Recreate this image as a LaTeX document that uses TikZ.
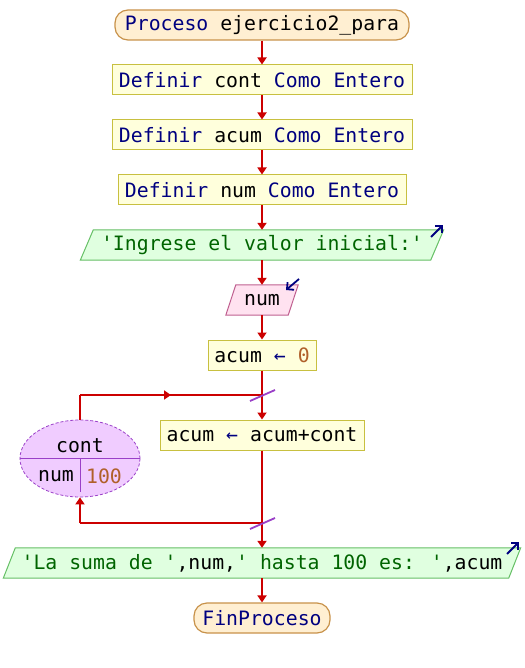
\documentclass[tikz,border=0pt]{standalone}
\usepackage{fontspec}
\usetikzlibrary{arrows.meta,shapes.geometric,backgrounds,decorations.markings,calc}
\newfontfamily\codefont{DejaVu Sans Mono}
\definecolor{kw}{HTML}{000080}
\definecolor{str}{HTML}{006400}
\definecolor{numc}{HTML}{B0602A}
\definecolor{flowred}{HTML}{CC0000}
\definecolor{termfill}{HTML}{FFEFD2}
\definecolor{termline}{HTML}{C8924A}
\definecolor{boxfill}{HTML}{FFFFDC}
\definecolor{boxline}{HTML}{C8C040}
\definecolor{outfill}{HTML}{E0FFE0}
\definecolor{outline}{HTML}{66C066}
\definecolor{infill}{HTML}{FFE2F0}
\definecolor{inline}{HTML}{C06090}
\definecolor{loopfill}{HTML}{F0CCFF}
\definecolor{loopline}{HTML}{9A40C8}
\newcommand{\kwd}[1]{\textcolor{kw}{#1}}
\newcommand{\strg}[1]{\textcolor{str}{#1}}
\newcommand{\numv}[1]{\textcolor{numc}{#1}}
\newcommand{\parashape}[4]{% node, fill, line, offset
  \begin{scope}[on background layer]
    \draw[fill=#2, draw=#3, line width=1pt]
      ($(#1.south west)+(-#4,0)$) -- ($(#1.north west)+(#4,0)$) --
      ($(#1.north east)+(#4,0)$) -- ($(#1.south east)+(-#4,0)$) -- cycle;
  \end{scope}}
\tikzset{
  every node/.style={font=\codefont\fontsize{19.8}{24}\selectfont, inner sep=0pt},
  term/.style={draw=termline, fill=termfill, line width=1.2pt, rounded corners=13pt, minimum height=30pt},
  stmt/.style={draw=boxline, fill=boxfill, line width=1pt, minimum height=30pt},
  iobox/.style={minimum height=30pt},
  loopnode/.style={ellipse, draw=loopline, fill=loopfill, densely dashed, line width=0.8pt, minimum width=120pt, minimum height=77pt},
  flow/.style={draw=flowred, line width=1.8pt, -{Triangle[width=9pt,length=7pt]}},
  plain/.style={draw=flowred, line width=1.8pt},
  midarrow/.style={postaction={decorate}, decoration={markings, mark=at position 0.5 with {\arrow{Triangle[width=9pt,length=7pt]}}}},
  slash/.style={draw=loopline, line width=1.8pt},
  ioarrow/.style={draw=kw, line width=1.8pt, -{Straight Barb[width=10pt,length=5pt]}}
}
\begin{document}
\begin{tikzpicture}[x=1pt,y=-1pt]
\useasboundingbox (0,0) rectangle (524,668);
\begin{scope}[on background layer]
  \fill[white] (0,0) rectangle (524,668);
\end{scope}

% sequential steps
\node[term, minimum width=294pt] (start) at (262,25) {\kwd{Proceso} ejercicio2\_para};
\node[stmt, minimum width=300pt] (d1) at (262,80) {\kwd{Definir} cont \kwd{Como} \kwd{Entero}};
\node[stmt, minimum width=300pt] (d2) at (262,135) {\kwd{Definir} acum \kwd{Como} \kwd{Entero}};
\node[stmt, minimum width=288pt] (d3) at (262,190) {\kwd{Definir} num \kwd{Como} \kwd{Entero}};
\node[iobox, minimum width=350pt] (in1) at (262,245) {\strg{'Ingrese el valor inicial:'}};
\parashape{in1}{outfill}{outline}{6.5}
\node[iobox, minimum width=62pt] (rd) at (262,300) {num};
\parashape{rd}{infill}{inline}{5}
\node[stmt, minimum width=108pt] (a0) at (262,355) {acum \kwd{←} \numv{0}};
\node[stmt, minimum width=204pt] (a1) at (262,435) {acum \kwd{←} acum+cont};
\node[iobox, minimum width=505pt] (out) at (262,563) {\strg{'La suma de '},num,\strg{' hasta 100 es: '},acum};
\parashape{out}{outfill}{outline}{6}
\node[term, minimum width=136pt] (fin) at (262,618) {\kwd{FinProceso}};

% loop header
\node[loopnode] (loop) at (80,458.5) {};
\draw[loopline, line width=0.8pt] (loop.west |- 0,458) -- (loop.east |- 0,458);
\draw[loopline, line width=0.8pt] (80,458) -- (80,492);
\node (lv) at (80,446) {cont};
\node (lend) at (56,476) {num};
\node (lto) at (104,476) {\numv{100}};

% input/output markers
\coordinate (o1s) at (431,237); \coordinate (o1e) at (443,225);
\draw[ioarrow] (o1s) -- (o1e);
\coordinate (r1s) at (299,279); \coordinate (r1e) at (286,290);
\draw[ioarrow] (r1s) -- (r1e);
\coordinate (o2s) at (507,554); \coordinate (o2e) at (519,542);
\draw[ioarrow] (o2s) -- (o2e);

% connectors
\draw[flow] (start) -- (d1);
\draw[flow] (d1) -- (d2);
\draw[flow] (d2) -- (d3);
\draw[flow] (d3) -- (in1);
\draw[flow] (in1) -- (rd);
\draw[flow] (rd) -- (a0);
\coordinate (j1) at (262,395);
\coordinate (j2) at (262,523);
\coordinate (tl) at (80,395);
\coordinate (bl) at (80,523);
\draw[plain] (a0) -- (j1);
\draw[flow] (j1) -- (a1);
\draw[flow] (a1) -- (out);
\draw[plain] (loop) -- (tl);
\draw[plain, midarrow] (tl) -- (j1);
\draw[plain] (j2) -- (bl);
\draw[flow] (bl) -- (loop);
\draw[flow] (out) -- (fin);

% loop junction marks
\draw[slash] ($(j1)+(-12,6)$) -- ($(j1)+(13,-5)$);
\draw[slash] ($(j2)+(-12,6)$) -- ($(j2)+(13,-5)$);
\end{tikzpicture}
\end{document}
